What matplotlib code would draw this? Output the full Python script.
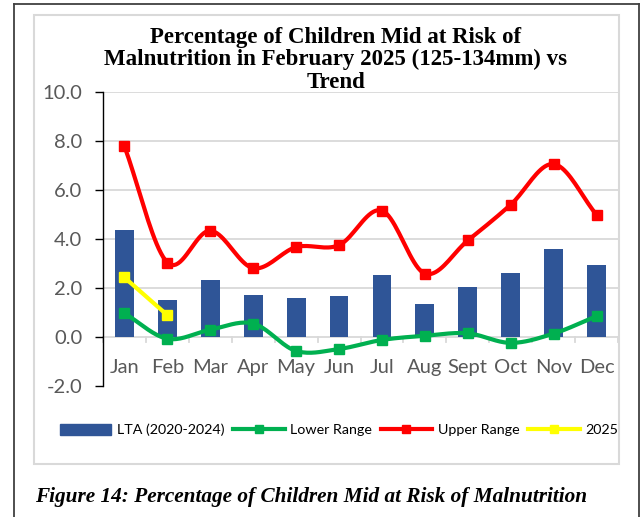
import numpy as np
import matplotlib
matplotlib.use("Agg")
import matplotlib.pyplot as plt
from matplotlib.patches import Rectangle
from matplotlib.lines import Line2D

months = ["Jan", "Feb", "Mar", "Apr", "May", "Jun", "Jul", "Aug", "Sept", "Oct", "Nov", "Dec"]
lta = [4.38, 1.52, 2.34, 1.71, 1.58, 1.67, 2.55, 1.35, 2.06, 2.62, 3.58, 2.94]
lower = [0.97, -0.07, 0.30, 0.55, -0.57, -0.49, -0.12, 0.05, 0.15, -0.24, 0.14, 0.85]
upper = [7.78, 3.04, 4.34, 2.81, 3.67, 3.75, 5.16, 2.59, 3.94, 5.40, 7.06, 4.99]
y2025 = [2.43, 0.89]

title = "Percentage of Children Mid at Risk of\nMalnutrition in February 2025 (125-134mm) vs\nTrend"
caption = "Figure 14: Percentage of Children Mid at Risk of Malnutrition"

W, H = 640, 517
fig = plt.figure(figsize=(W / 100, H / 100), dpi=100)

def fx(px):
    return px / W

def fy(py):
    return 1 - py / H

# outer dark border
fig.add_artist(Line2D([fx(14), fx(14)], [fy(4), 0], color="#404040", lw=1.3, transform=fig.transFigure))
fig.add_artist(Line2D([fx(14), fx(639)], [fy(4), fy(4)], color="#404040", lw=1.3, transform=fig.transFigure))
fig.add_artist(Line2D([fx(639), fx(639)], [fy(4), 0], color="#404040", lw=1.3, transform=fig.transFigure))
# inner chart area border
fig.add_artist(Rectangle((fx(34), fy(464)), fx(619) - fx(34), fy(15) - fy(464), fill=False,
                         edgecolor="#d9d9d9", lw=1.5, transform=fig.transFigure))

ax = fig.add_axes([fx(103), fy(386), fx(618) - fx(103), fy(92) - fy(386)])

x = np.arange(len(months))

def smooth(xs, ys, n=20):
    xs = np.asarray(xs, float)
    ys = np.asarray(ys, float)
    px = np.concatenate([[2 * xs[0] - xs[1]], xs, [2 * xs[-1] - xs[-2]]])
    py = np.concatenate([[2 * ys[0] - ys[1]], ys, [2 * ys[-1] - ys[-2]]])
    ox, oy = [], []
    t = np.linspace(0, 1, n, endpoint=False)
    for i in range(1, len(px) - 2):
        for arr, out in ((px, ox), (py, oy)):
            p0, p1, p2, p3 = arr[i - 1], arr[i], arr[i + 1], arr[i + 2]
            c1 = p1 + (p2 - p0) / 6
            c2 = p2 - (p3 - p1) / 6
            out.extend((1 - t) ** 3 * p1 + 3 * (1 - t) ** 2 * t * c1 + 3 * (1 - t) * t ** 2 * c2 + t ** 3 * p2)
    ox.append(xs[-1])
    oy.append(ys[-1])
    return np.array(ox), np.array(oy)

ax.bar(x, lta, width=0.44, color="#2F5597", zorder=2, label="LTA (2020-2024)")

lw = 3.0
ms = 7.5
sx, sy = smooth(x, lower)
ax.plot(sx, sy, color="#00B050", lw=lw, zorder=3, solid_capstyle="round")
ax.plot(x, lower, ls="none", marker="s", ms=ms, color="#00B050", zorder=3)
sx, sy = smooth(x, upper)
ax.plot(sx, sy, color="#FF0000", lw=lw, zorder=4, solid_capstyle="round")
ax.plot(x, upper, ls="none", marker="s", ms=ms, color="#FF0000", zorder=4)
ax.plot(x[:len(y2025)], y2025, color="#FFFF00", lw=lw, marker="s", ms=ms, zorder=5)

ax.set_xlim(-0.5, len(months) - 0.5)
ax.set_ylim(-2, 10)
ax.set_yticks(np.arange(-2, 10.1, 2))
ax.set_yticklabels([f"{v:.1f}" for v in np.arange(-2, 10.1, 2)])
for v in np.arange(2, 10.1, 2):
    ax.axhline(v, color="#d9d9d9", lw=1.3, zorder=0)
ax.axhline(0, color="#d9d9d9", lw=1.3, zorder=1)
for b in np.arange(-0.5, len(months), 1.0):
    ax.plot([b, b], [0, -0.2], color="#d9d9d9", lw=1.3, zorder=1, clip_on=False)

for s in ["top", "right", "bottom"]:
    ax.spines[s].set_visible(False)
ax.spines["left"].set_color("black")
ax.spines["left"].set_linewidth(1.0)
ax.tick_params(axis="y", length=6, width=1.0, color="black", labelsize=14.5, labelcolor="#595959", pad=9)
ax.set_xticks([])
for xi, m in zip(x, months):
    ax.text(xi, -1.25, m, ha="center", va="center", fontsize=14.5, color="#595959", family="Lato")
for lab in ax.get_yticklabels():
    lab.set_family("Lato")
ax.patch.set_alpha(0)

fig.text(fx(336), fy(27), title, ha="center", va="top", fontsize=16.5, fontweight="bold",
         family="Liberation Serif", linespacing=1.08)

handles = [
    Rectangle((0, 0), 1, 1, color="#2F5597"),
    Line2D([], [], color="#00B050", lw=lw, marker="s", ms=6),
    Line2D([], [], color="#FF0000", lw=lw, marker="s", ms=6),
    Line2D([], [], color="#FFFF00", lw=lw, marker="s", ms=6),
]
labels = ["LTA (2020-2024)", "Lower Range", "Upper Range", "2025"]
leg = fig.legend(handles, labels, loc="center", bbox_to_anchor=(fx(339), fy(430)), ncol=4,
                 frameon=False, prop={"family": "Lato", "size": 10.3}, handlelength=3.6,
                 handleheight=0.9, handletextpad=0.4, columnspacing=0.6)

fig.text(fx(35), fy(497), caption, ha="left", va="center", fontsize=15.3, fontweight="bold",
         fontstyle="italic", family="Liberation Serif")

fig.savefig("out.png", dpi=100)
